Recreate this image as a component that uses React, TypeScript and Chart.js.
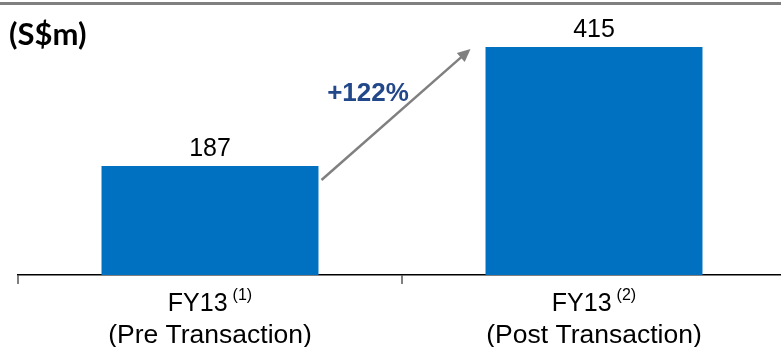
import React, { useEffect, useRef } from "react";
import { Chart, registerables } from "chart.js";

Chart.register(...registerables);

const categories = ["FY13", "FY13"];
const footnotes = ["(1)", "(2)"];
const subLabels = ["(Pre Transaction)", "(Post Transaction)"];
const values = [187, 415];
const unitLabel = "(S$m)";
const changeLabel = "+122%";

const FONT = "'Liberation Sans', Arial, sans-serif";

const overlay = {
  id: "overlay",
  afterDatasetsDraw(chart: any) {
    const ctx = chart.ctx as CanvasRenderingContext2D;
    const meta = chart.getDatasetMeta(0);
    const xs = chart.scales.x;
    ctx.save();
    // top rule
    ctx.fillStyle = "#808080";
    ctx.fillRect(0, 2, chart.width, 3);

    // unit label
    ctx.fillStyle = "#000";
    ctx.font = "bold 31px Lato, 'Liberation Sans', sans-serif";
    ctx.textAlign = "left";
    ctx.textBaseline = "middle";
    ctx.fillText(unitLabel, 9, 35);

    // value labels
    ctx.font = `25px ${FONT}`;
    ctx.textAlign = "center";
    ctx.textBaseline = "alphabetic";
    meta.data.forEach((bar: any, i: number) => {
      ctx.fillText(String(values[i]), bar.x, bar.y - 10);
    });

    // category labels
    categories.forEach((c, i) => {
      const cx = xs.getPixelForValue(i);
      ctx.font = `25px ${FONT}`;
      const w1 = ctx.measureText(c).width + 5;
      ctx.font = `16px ${FONT}`;
      const w2 = ctx.measureText(footnotes[i]).width;
      const start = cx - (w1 + w2) / 2;
      ctx.textAlign = "left";
      ctx.font = `25px ${FONT}`;
      ctx.fillText(c, start, 311);
      ctx.font = `16px ${FONT}`;
      ctx.fillText(footnotes[i], start + w1, 300);
      ctx.textAlign = "center";
      ctx.font = `26.5px ${FONT}`;
      ctx.fillText(subLabels[i], cx, 343);
    });

    // arrow
    const b1 = meta.data[0] as any;
    const b2 = meta.data[1] as any;
    const x0 = b1.x + b1.width / 2 + 3;
    const y0 = b1.y + 14;
    const x1 = b2.x - b2.width / 2 - 15;
    const y1 = b2.y + 2;
    const ang = Math.atan2(y1 - y0, x1 - x0);
    const hl = 13;
    const hw = 6;
    ctx.strokeStyle = "#808080";
    ctx.fillStyle = "#808080";
    ctx.lineWidth = 2.5;
    ctx.beginPath();
    ctx.moveTo(x0, y0);
    ctx.lineTo(x1 - Math.cos(ang) * hl * 0.8, y1 - Math.sin(ang) * hl * 0.8);
    ctx.stroke();
    ctx.beginPath();
    ctx.moveTo(x1, y1);
    ctx.lineTo(
      x1 - Math.cos(ang) * hl - Math.sin(ang) * hw,
      y1 - Math.sin(ang) * hl + Math.cos(ang) * hw
    );
    ctx.lineTo(
      x1 - Math.cos(ang) * hl + Math.sin(ang) * hw,
      y1 - Math.sin(ang) * hl - Math.cos(ang) * hw
    );
    ctx.closePath();
    ctx.fill();

    // change label
    ctx.fillStyle = "#23488A";
    ctx.font = `bold 26px ${FONT}`;
    ctx.textAlign = "center";
    ctx.textBaseline = "middle";
    ctx.fillText(changeLabel, 368, 94);
    ctx.restore();
  },
};

export default function App() {
  const ref = useRef<HTMLCanvasElement>(null);
  useEffect(() => {
    document.body.style.margin = "0";
    const chart = new Chart(ref.current!, {
      type: "bar",
      data: {
        labels: categories,
        datasets: [
          {
            data: values,
            backgroundColor: "#0070C0",
            borderWidth: 0,
            barPercentage: 0.565,
            categoryPercentage: 1,
            base: -22,
          } as any,
        ],
      },
      options: {
        responsive: false,
        animation: false,
        devicePixelRatio: 1,
        layout: { padding: { left: 18, right: 4, top: 0, bottom: 63 } },
        plugins: {
          legend: { display: false },
          tooltip: { enabled: false },
        },
        scales: {
          x: {
            offset: true,
            grid: {
              offset: true,
              drawOnChartArea: false,
              tickLength: 9,
              color: "#808080",
              lineWidth: 2,
            },
            border: { color: "#000", width: 1.5 },
            ticks: { display: false },
          },
          y: {
            display: false,
            min: -22,
            max: 505,
          },
        },
      },
      plugins: [overlay],
    });
    return () => chart.destroy();
  }, []);
  return (
    <div style={{ position: "absolute", left: 0, top: 0, width: 781, height: 347, overflow: "hidden" }}>
      <canvas ref={ref} width={790} height={347} style={{ display: "block" }} />
    </div>
  );
}
